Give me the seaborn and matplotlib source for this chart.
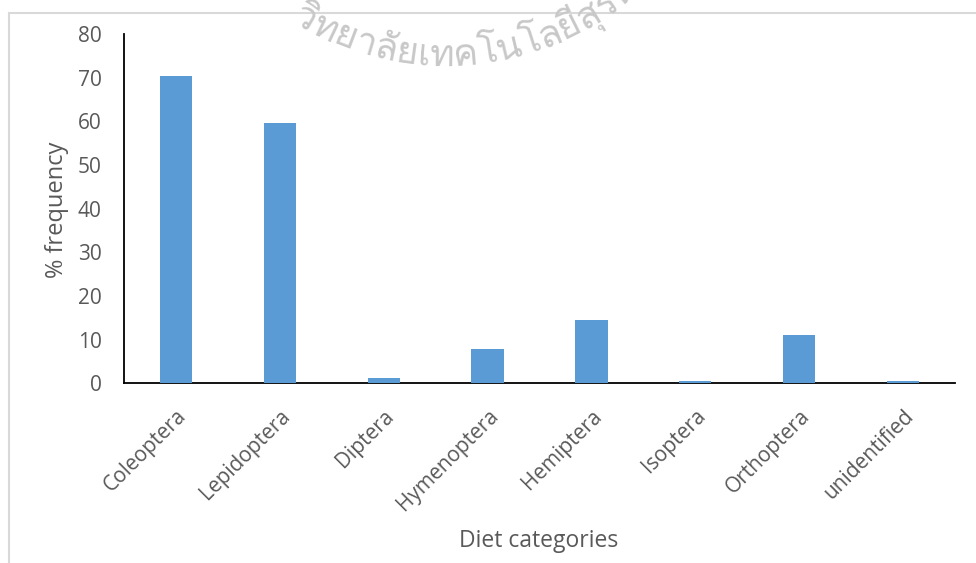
import math
import unicodedata

import matplotlib
matplotlib.use("Agg")
import matplotlib.pyplot as plt
from matplotlib import font_manager, ft2font
from matplotlib.patches import Rectangle
import pandas as pd
import seaborn as sns

categories = ["Coleoptera", "Lepidoptera", "Diptera", "Hymenoptera",
              "Hemiptera", "Isoptera", "Orthoptera", "unidentified"]
frequency = [70.4, 59.6, 1.2, 7.8, 14.6, 0.6, 11.0, 0.6]
y_ticks = [0, 10, 20, 30, 40, 50, 60, 70, 80]
watermark = "วิทยาลัยเทคโนโลยีสุรนารี"

W, H = 976, 563

sns.set_theme(style="white")
plt.rcParams["font.family"] = ["Open Sans", "DejaVu Sans"]

df = pd.DataFrame({"category": categories, "freq": frequency})

fig = plt.figure(figsize=(W / 100, H / 100), dpi=100)
ax = fig.add_axes([124 / W, 1 - 383.3 / H, (955 - 124) / W, (383.3 - 34) / H])

sns.barplot(data=df, x="category", y="freq", color="#5B9BD5", saturation=1,
            width=0.31, linewidth=0, ax=ax, zorder=3)

ax.set_ylim(0, 80)
ax.set_xlim(-0.5, len(categories) - 0.5)
ax.set_yticks(y_ticks)
ax.set_yticklabels([str(t) for t in y_ticks], fontsize=15, color="#595959")
ax.set_xticks(range(len(categories)))
ax.set_xticklabels(categories, rotation=45, ha="right", rotation_mode="anchor",
                   fontsize=15, color="#595959")
ax.tick_params(axis="x", length=0, pad=16)
ax.tick_params(axis="y", length=0, pad=16)

for side in ["top", "right"]:
    ax.spines[side].set_visible(False)
for side in ["left", "bottom"]:
    ax.spines[side].set_color("black")
    ax.spines[side].set_linewidth(1.3)
    ax.spines[side].set_zorder(1)

ax.set_xlabel("")
ax.set_ylabel("")
fig.text(539 / W, 1 - 541 / H, "Diet categories", ha="center", va="center",
         fontsize=16.5, color="#595959")
fig.text(57 / W, 1 - 210 / H, "% frequency", ha="center", va="center",
         rotation=90, fontsize=17, color="#595959")

# light chart-area border (only top and left visible in the crop)
fig.add_artist(Rectangle((8.5 / W, -0.2), 1.2, 1.2 - 12.5 / H,
                         transform=fig.transFigure, fill=False,
                         edgecolor="#d9d9d9", linewidth=1.5))

# faint seal watermark along an arc, only if some installed font has Thai glyphs
thai_font = None
for f in font_manager.fontManager.ttflist:
    try:
        if ord("ว") in ft2font.FT2Font(f.fname).get_charmap():
            thai_font = f.name
            break
    except Exception:
        continue

if thai_font:
    clusters = []
    for ch in watermark:
        if clusters and unicodedata.category(ch) == "Mn":
            clusters[-1] += ch
        else:
            clusters.append(ch)
    renderer = fig.canvas.get_renderer()
    wm_kw = dict(fontsize=27, color="#c8c8c8", family=[thai_font])
    widths = []
    for c in clusters:
        t = fig.text(0, 0, c, **wm_kw)
        widths.append(t.get_window_extent(renderer).width)
        t.remove()
    cx, bottom, R = 445, 66, 290
    s = R * math.radians(-32)
    for c, w in zip(clusters, widths):
        theta = (s + w / 2) / R
        x = cx + R * math.sin(theta)
        y = bottom - R * (1 - math.cos(theta))
        fig.text(x / W, 1 - y / H, c, ha="center", va="baseline",
                 rotation=math.degrees(theta), rotation_mode="anchor", **wm_kw)
        s += w

fig.savefig("out.png", dpi=100)
